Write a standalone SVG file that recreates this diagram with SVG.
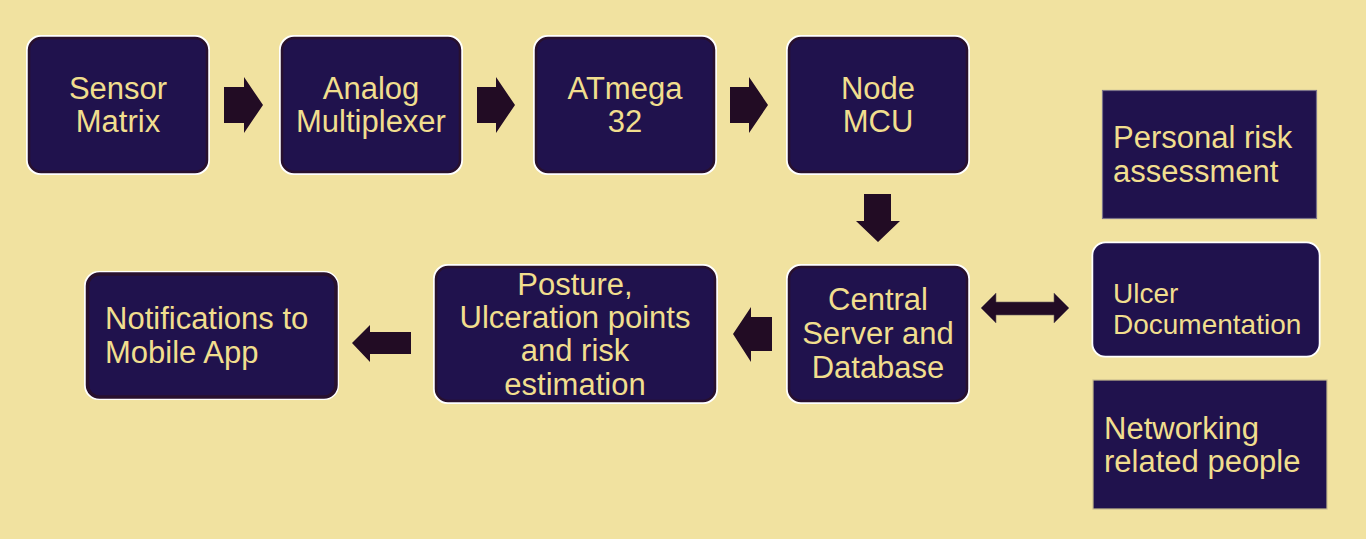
<svg xmlns="http://www.w3.org/2000/svg" width="1366" height="539" viewBox="0 0 1366 539">
<style>
.bg{fill:#F1E2A0}
.outer{fill:none;stroke:#FFFFFF;stroke-width:3}
.box{fill:#20124D;stroke:#28102E;stroke-width:2.5}
.sq{fill:#20124D;stroke:#7A7288;stroke-width:1.2}
.t{font-family:"Liberation Sans",Arial,sans-serif;font-size:31px;fill:#F1DE8E}
.c{text-anchor:middle}
.s{font-size:28px}
.arr{fill:#220C24}
</style>
<rect class="bg" x="0" y="0" width="1366" height="539"/>

<g id="sensor-matrix">
<rect class="outer" x="27.5" y="36.5" width="181" height="137" rx="13"/>
<rect class="box" x="29" y="38" width="178" height="134" rx="12"/>
<text class="t c" x="118" y="99">Sensor</text>
<text class="t c" x="118" y="132">Matrix</text>
</g>

<g id="analog-multiplexer">
<rect class="outer" x="280.5" y="36.5" width="181" height="137" rx="13"/>
<rect class="box" x="282" y="38" width="178" height="134" rx="12"/>
<text class="t c" x="371" y="99">Analog</text>
<text class="t c" x="371" y="132">Multiplexer</text>
</g>

<g id="atmega32">
<rect class="outer" x="534.5" y="36.5" width="181" height="137" rx="13"/>
<rect class="box" x="536" y="38" width="178" height="134" rx="12"/>
<text class="t c" x="625" y="99">ATmega</text>
<text class="t c" x="625" y="132">32</text>
</g>

<g id="node-mcu">
<rect class="outer" x="787.5" y="36.5" width="181" height="137" rx="13"/>
<rect class="box" x="789" y="38" width="178" height="134" rx="12"/>
<text class="t c" x="878" y="99">Node</text>
<text class="t c" x="878" y="132">MCU</text>
</g>

<g id="central-server">
<rect class="outer" x="787.5" y="265.5" width="181" height="137" rx="13"/>
<rect class="box" x="789" y="267" width="178" height="134" rx="12"/>
<text class="t c" x="878" y="310">Central</text>
<text class="t c" x="878" y="344">Server and</text>
<text class="t c" x="878" y="378">Database</text>
</g>

<g id="posture">
<rect class="outer" x="434.5" y="265.5" width="282" height="137" rx="13"/>
<rect class="box" x="436" y="267" width="279" height="134" rx="12"/>
<text class="t c" x="575" y="295">Posture,</text>
<text class="t c" x="575" y="328">Ulceration points</text>
<text class="t c" x="575" y="361">and risk</text>
<text class="t c" x="575" y="395">estimation</text>
</g>

<g id="notifications">
<rect class="outer" x="85.5" y="272.5" width="252" height="126" rx="13"/>
<rect class="box" x="87.5" y="274" width="248.5" height="123" rx="12" style="stroke-width:3.5"/>
<text class="t" x="105" y="329">Notifications to</text>
<text class="t" x="105" y="363">Mobile App</text>
</g>

<g id="personal-risk">
<rect class="sq" x="1102.5" y="90.5" width="214" height="128"/>
<text class="t" x="1113" y="148">Personal risk</text>
<text class="t" x="1113" y="182">assessment</text>
</g>

<g id="ulcer-documentation">
<rect class="outer" x="1093" y="243" width="226" height="113" rx="12"/>
<rect class="box" x="1094.5" y="244.5" width="223" height="110" rx="11" style="stroke:#20124D"/>
<text class="t s" x="1113" y="303">Ulcer</text>
<text class="t s" x="1113" y="334">Documentation</text>
</g>

<g id="networking">
<rect class="sq" x="1093" y="380" width="234" height="129" style="stroke:#C9BC90"/>
<text class="t" x="1104" y="439">Networking</text>
<text class="t" x="1104" y="472">related people</text>
</g>

<g id="connectors">
<polygon class="arr" points="224,87 244,87 244,77 263,105 244,133 244,123 224,123"/>
<polygon class="arr" points="477,87 496,87 496,77 515,105 496,133 496,123 477,123"/>
<polygon class="arr" points="730,87 749,87 749,77 768,105 749,133 749,123 730,123"/>
<polygon class="arr" points="864,194 891,194 891,221 900,221 878,242 856,221 864,221"/>
<polygon class="arr" points="772,317 751,317 751,307 733,334 751,362 751,351 772,351"/>
<polygon class="arr" points="411,332 370,332 370,325 352,343 370,362 370,354 411,354"/>
<polygon class="arr" points="981,308 996,293 996,302 1054,302 1054,293 1069,308 1054,323 1054,315 996,315 996,323" style="stroke:#6A6060;stroke-width:0.6"/>
</g>
</svg>
